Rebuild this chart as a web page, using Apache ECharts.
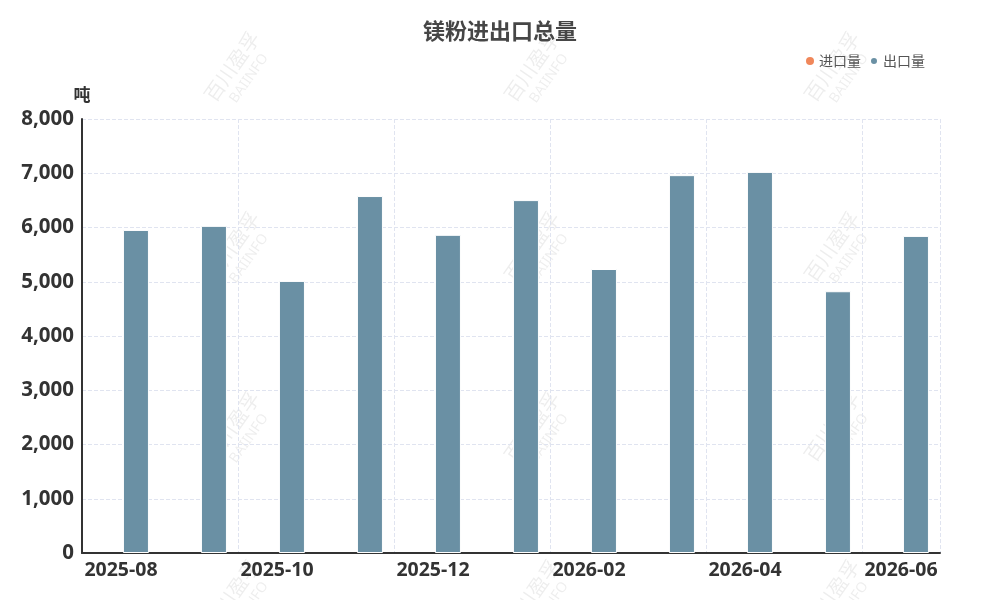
<!DOCTYPE html>
<html><head><meta charset="utf-8">
<script src="https://cdn.jsdelivr.net/npm/echarts@6/dist/echarts.min.js"></script>
<style>html,body{margin:0;padding:0;background:#fff}#c{width:1000px;height:600px}</style>
</head><body><div id="c"></div>
<script>
const categories = ['2025-08','2025-09','2025-10','2025-11','2025-12','2026-01','2026-02','2026-03','2026-04','2026-05','2026-06'];
const importValues = [null,null,null,null,null,null,null,null,null,null,null];
const exportValues = [5955,6030,5015,6580,5865,6505,5235,6965,7025,4825,5845];
const yTicks = {min:0,max:8000,interval:1000};

const wmPos = [];
[240,540,840].forEach(x=>[72,252,432,600].forEach(y=>wmPos.push([x,y])));
const graphics = wmPos.map(p=>({
  type:'group', x:p[0], y:p[1], rotation:Math.PI*55/180, silent:true, z:100,
  children:[
    {type:'text', style:{text:'百川盈孚', x:0, y:-10, fill:'rgba(0,0,0,0.07)', font:'20px "Noto Sans CJK SC"', align:'center', verticalAlign:'middle'}},
    {type:'text', style:{text:'BAIINFO', x:0, y:11, fill:'rgba(0,0,0,0.07)', font:'14px "Noto Sans"', align:'center', verticalAlign:'middle'}}
  ]
}));

const chart = echarts.init(document.getElementById('c'));
chart.setOption({
  animation:false,
  title:{text:'镁粉进出口总量', left:'center', top:15, textStyle:{fontSize:22, fontWeight:'bold', color:'#464646', fontFamily:'"Noto Sans CJK SC"'}},
  legend:{right:70, top:49, itemWidth:8, itemHeight:8, itemGap:8, icon:'circle', textStyle:{fontSize:14, color:'#555', fontFamily:'"Noto Sans CJK SC"'}, data:['进口量','出口量']},
  grid:{left:82, right:60, top:119, bottom:47},
  xAxis:{type:'category', data:categories,
    axisLine:{lineStyle:{color:'#333', width:2}},
    axisTick:{show:false},
    axisLabel:{interval:1, fontSize:19.5, fontWeight:'bold', color:'#333', margin:7, fontFamily:'"Open Sans"'},
    splitLine:{show:true, interval:1, lineStyle:{type:'dashed', color:'#e0e4f0'}}
  },
  yAxis:{type:'value', min:yTicks.min, max:yTicks.max, interval:yTicks.interval, name:'吨',
    nameTextStyle:{fontSize:17, fontWeight:'bold', color:'#333', align:'center', padding:[0,0,2,0], fontFamily:'"Noto Sans CJK SC"'},
    nameGap:14,
    axisLine:{show:true, lineStyle:{color:'#333', width:2}},
    axisTick:{show:false},
    axisLabel:{fontSize:20.5, fontWeight:'bold', color:'#333', margin:8, fontFamily:'"Open Sans"',
      formatter:v=>v.toLocaleString('en-US')},
    splitLine:{lineStyle:{type:'dashed', color:'#e0e4f0'}}
  },
  series:[
    {name:'进口量', type:'bar', data:importValues, barWidth:26, barGap:'15%', itemStyle:{color:'#f0875a'}},
    {name:'出口量', type:'bar', data:exportValues, barWidth:26, barGap:'15%', itemStyle:{color:'#6a90a4', borderColor:'#fff', borderWidth:1}}
  ],
  graphic:graphics
});
</script></body></html>
